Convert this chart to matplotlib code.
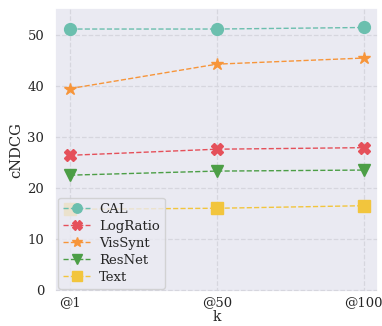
import matplotlib
matplotlib.use('Agg')
import matplotlib.pyplot as plt
import seaborn as sns

ks = ['@1', '@50', '@100']
cal = [51.2, 51.2, 51.5]
logratio = [26.4, 27.6, 27.9]
vissynt = [39.5, 44.3, 45.5]
resnet = [22.5, 23.3, 23.5]
text = [15.8, 16.0, 16.5]

sns.set_theme(style='darkgrid')
plt.rcParams['font.family'] = ['DejaVu Serif']
plt.rcParams['grid.linestyle'] = '--'
plt.rcParams['grid.color'] = '#d6d6de'
plt.rcParams['grid.linewidth'] = 0.9

fig, ax = plt.subplots(figsize=(3.82, 3.26), dpi=100)
x = range(len(ks))

ax.plot(x, cal, '--o', color='#6bbfae', ms=8.5, lw=1, label='CAL')
ax.plot(x, logratio, '--X', color='#e5505a', ms=8.5, lw=1, label='LogRatio')
ax.plot(x, vissynt, '--*', color='#f7953a', ms=9, lw=1, label='VisSynt')
ax.plot(x, resnet, '--v', color='#4c9e46', ms=8.5, lw=1, label='ResNet')
ax.plot(x, text, '--s', color='#f2c53d', ms=8.5, lw=1, label='Text')

ax.set_xticks(list(x))
ax.set_xticklabels(ks)
ax.set_ylim(-0.4, 55.3)
ax.set_yticks([0, 10, 20, 30, 40, 50])
ax.tick_params(labelsize=9.5, pad=2)
ax.tick_params(axis='x', pad=-3)
ax.set_xlabel('k', fontsize=10, labelpad=1)
ax.set_ylabel('cNDCG', fontsize=10.5, labelpad=3)
ax.legend(loc='lower left', fontsize=9.5, handlelength=2.0, borderpad=0.4,
          labelspacing=0.3, handletextpad=0.7, borderaxespad=0.2,
          markerscale=0.8)

fig.subplots_adjust(left=0.145, right=0.99, top=0.975, bottom=0.105)
fig.savefig('out.png')
